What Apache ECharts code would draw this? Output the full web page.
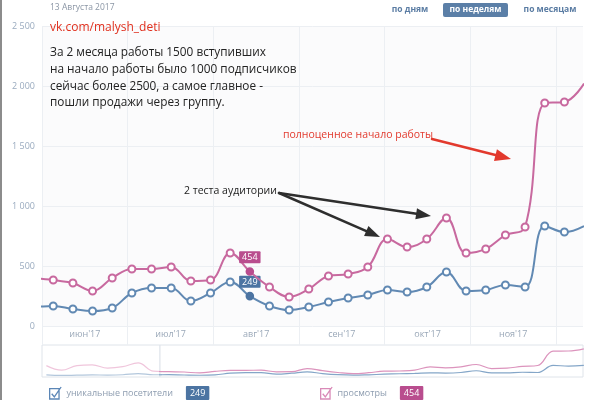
<!DOCTYPE html>
<html><head><meta charset="utf-8">
<script src="https://cdn.jsdelivr.net/npm/echarts@6/dist/echarts.min.js"></script>
<style>html,body{margin:0;padding:0;background:#fff}#c{width:600px;height:400px}</style>
</head><body><div id="c"></div>
<script>
// ---- data ----
const weeks = ['2017-04-10','2017-04-17','2017-04-24','2017-05-01','2017-05-08','2017-05-15','2017-05-22','2017-05-29',
  '2017-06-05','2017-06-12','2017-06-19','2017-06-26','2017-07-03','2017-07-10','2017-07-17','2017-07-24','2017-07-31',
  '2017-08-07','2017-08-14','2017-08-21','2017-08-28','2017-09-04','2017-09-11','2017-09-18','2017-09-25',
  '2017-10-02','2017-10-09','2017-10-16','2017-10-23','2017-10-30','2017-11-06','2017-11-13','2017-11-20','2017-11-27',
  '2017-12-04','2017-12-11'];
const visitors = [150,110,130,150,140,160,240,160,
  167,142,125,150,275,317,317,208,275,
  367,249,167,133,158,200,233,258,
  300,283,325,450,292,300,342,325,833,
  783,833];
const views = [820,490,820,870,640,740,1010,420,
  383,358,292,400,475,475,492,375,383,
  608,454,325,242,308,417,433,492,
  725,658,725,900,608,642,758,825,1858,
  1867,2020];
const months = ["июн'17","июл'17","авг'17","сен'17","окт'17","ноя'17"];
const yTicks = [0,500,1000,1500,2000,2500];
const hoverWeek = '2017-08-14';
const viewStart = '2017-06-01', viewEnd = '2017-12-10 15:00', navStart = '2017-04-08';
const nameVisitors = 'уникальные посетители', nameViews = 'просмотры';

// ---- build ----
const hoverIdx = weeks.indexOf(hoverWeek);
const blue = '#6189b3', pink = '#c8699f';
const blueTag = '#4c74a2', pinkTag = '#b94d8e';
const FONT = '"Open Sans", "DejaVu Sans", sans-serif';

function mainData(vals, tagColor){
  return weeks.map((w,i)=>{
    if(i!==hoverIdx) return [w, vals[i]];
    return {value:[w, vals[i]], symbol:'circle', symbolSize:7,
      itemStyle:{color:tagColor, borderColor:tagColor},
      label:{show:true, position:'top', distance:4, formatter:p=>p.value[1],
        backgroundColor:tagColor, color:'#fff', fontSize:9, fontFamily:FONT,
        padding:[2,3,1,3], borderRadius:1}};
  });
}
const pairs = vals => weeks.map((w,i)=>[w, vals[i]]);
const fmt = v => String(v).replace(/\B(?=(\d{3})+(?!\d))/g,' ');

function arrow(x1,y1,x2,y2,color,w,hl,hw){
  const a=Math.atan2(y2-y1,x2-x1), c=Math.cos(a), s=Math.sin(a);
  const bx=x2-hl*c, by=y2-hl*s;
  return [
    {type:'line', shape:{x1:x1,y1:y1,x2:bx+2*c,y2:by+2*s}, style:{stroke:color,lineWidth:w,lineCap:'round'}, z:100},
    {type:'polygon', shape:{points:[[x2,y2],[bx+hw/2*s,by-hw/2*c],[bx-hw/2*s,by+hw/2*c]]}, style:{fill:color}, z:100}
  ];
}
function txt(x,y,text,color,size,extra){
  return {type:'text', x:x, y:y, z:100, style:Object.assign({text:text, fill:color,
    fontSize:size, fontFamily:FONT, verticalAlign:'middle', align:'left'}, extra||{})};
}

const checkIcon = 'path://M1,2H10V12H1Z M3,7L5.5,10L12,0.5';

const navSeries = (name,vals,color,xi)=>({
  name:name, type:'line', xAxisIndex:xi, yAxisIndex:xi, data:pairs(vals), smooth:0.4,
  showSymbol:false, silent:true, lineStyle:{width:1.2, color:color}, itemStyle:{color:color}
});

const option = {
  animation:false,
  grid:[
    {left:42, right:17, top:26, height:300, show:true, backgroundColor:'#fbfbfc', borderWidth:0},
    {left:42, width:514, top:26, height:319},
    {left:42, width:118, top:345, height:32, show:true, borderColor:'#dfe4ea', borderWidth:1, backgroundColor:'#fff'},
    {left:160, right:17, top:345, height:32, show:true, borderColor:'#dfe4ea', borderWidth:1, backgroundColor:'#fff'}
  ],
  xAxis:[
    {gridIndex:0, type:'time', min:viewStart, max:viewEnd, axisLine:{show:false}, axisTick:{show:false}, axisLabel:{show:false}, splitLine:{show:false}},
    {gridIndex:1, type:'category', data:months, boundaryGap:true, axisLine:{show:false}, axisTick:{show:false},
      axisLabel:{inside:true, margin:6, color:'#9aa8b8', fontSize:9, fontFamily:FONT},
      splitLine:{show:true, lineStyle:{color:'#eceff3', width:1}}},
    {gridIndex:2, type:'time', min:navStart, max:viewStart, show:false},
    {gridIndex:3, type:'time', min:viewStart, max:viewEnd, show:false}
  ],
  yAxis:[
    {gridIndex:0, type:'value', min:yTicks[0], max:yTicks[yTicks.length-1], interval:yTicks[1]-yTicks[0],
      axisLine:{show:false}, axisTick:{show:false},
      axisLabel:{formatter:fmt, color:'#9aabbf', fontSize:9, fontFamily:FONT, margin:7},
      splitLine:{lineStyle:{color:'#eceff3', width:1}}},
    {gridIndex:1, type:'value', show:false},
    {gridIndex:2, type:'value', min:0, max:2300, show:false},
    {gridIndex:3, type:'value', min:0, max:2300, show:false}
  ],
  legend:[
    {data:[nameVisitors], left:44, top:381, icon:checkIcon, itemWidth:12, itemHeight:12, itemGap:0,
      itemStyle:{color:'rgba(0,0,0,0)', borderColor:'#5b86b6', borderWidth:1.3},
      formatter:n=>n+'{g|}{b|'+visitors[hoverIdx]+'}',
      textStyle:{color:'#8e9db0', fontSize:9, fontFamily:FONT,
        rich:{g:{width:13}, b:{backgroundColor:blueTag, color:'#fff', fontSize:9, fontFamily:FONT, padding:[3,4,2,4], borderRadius:1}}}},
    {data:[nameViews], left:315, top:381, icon:checkIcon, itemWidth:12, itemHeight:12, itemGap:0,
      itemStyle:{color:'rgba(0,0,0,0)', borderColor:'#d98ab8', borderWidth:1.3},
      formatter:n=>n+'{g|}{b|'+views[hoverIdx]+'}',
      textStyle:{color:'#8e9db0', fontSize:9, fontFamily:FONT,
        rich:{g:{width:13}, b:{backgroundColor:pinkTag, color:'#fff', fontSize:9, fontFamily:FONT, padding:[3,4,2,4], borderRadius:1}}}}
  ],
  series:[
    {name:nameVisitors, type:'line', xAxisIndex:0, yAxisIndex:0, data:mainData(visitors, blueTag), smooth:0.4,
      symbol:'emptyCircle', symbolSize:7, z:3, lineStyle:{width:2, color:blue}, itemStyle:{color:blue, borderWidth:1.6}},
    {name:nameViews, type:'line', xAxisIndex:0, yAxisIndex:0, data:mainData(views, pinkTag), smooth:0.4,
      symbol:'emptyCircle', symbolSize:7, z:4, lineStyle:{width:2, color:pink}, itemStyle:{color:pink, borderWidth:1.6}},
    navSeries('nav-v1', visitors, '#b3c7dc', 2),
    navSeries('nav-p1', views, '#f0c6dc', 2),
    navSeries('nav-v2', visitors, '#84a6c8', 3),
    navSeries('nav-p2', views, '#dc94bd', 3)
  ],
  graphic:[
    {type:'rect', shape:{x:0,y:0,width:2,height:400}, style:{fill:'#8c8c8c'}, z:100},
    txt(50,8,'13 Августа 2017','#8b96a5',8.5),
    txt(410,10,'по дням','#5a7ca3',8.5,{align:'center', fontWeight:'bold'}),
    {type:'rect', shape:{x:443,y:3,width:65,height:14,r:2}, style:{fill:'#5b7fa7'}, z:100},
    txt(475.5,10,'по неделям','#ffffff',8.5,{align:'center', fontWeight:'bold'}),
    txt(550,10,'по месяцам','#5a7ca3',8.5,{align:'center', fontWeight:'bold'}),
    txt(50,28,'vk.com/malysh_deti','#e0301e',12),
    txt(50,53,'За 2 месяца работы 1500 вступивших','#222',11.8),
    txt(50,70,'на начало работы было 1000 подписчиков','#222',11.8),
    txt(50,87,'сейчас более 2500, а самое главное -','#222',11.8),
    txt(50,103,'пошли продажи через группу.','#222',11.8),
    txt(283,135,'полноценное начало работы','#e23b2f',10.5),
    txt(184,191,'2 теста аудитории','#222',10.5),
    ...arrow(279,193,380,237,'#2e2e2e',2.5,15,11),
    ...arrow(279,193,431,216,'#2e2e2e',2.5,15,11),
    ...arrow(432,139,511,159,'#e2392d',2.5,16,12)
  ]
};
const chart = echarts.init(document.getElementById('c'), null, {renderer:'canvas'});
chart.setOption(option);
</script></body></html>
